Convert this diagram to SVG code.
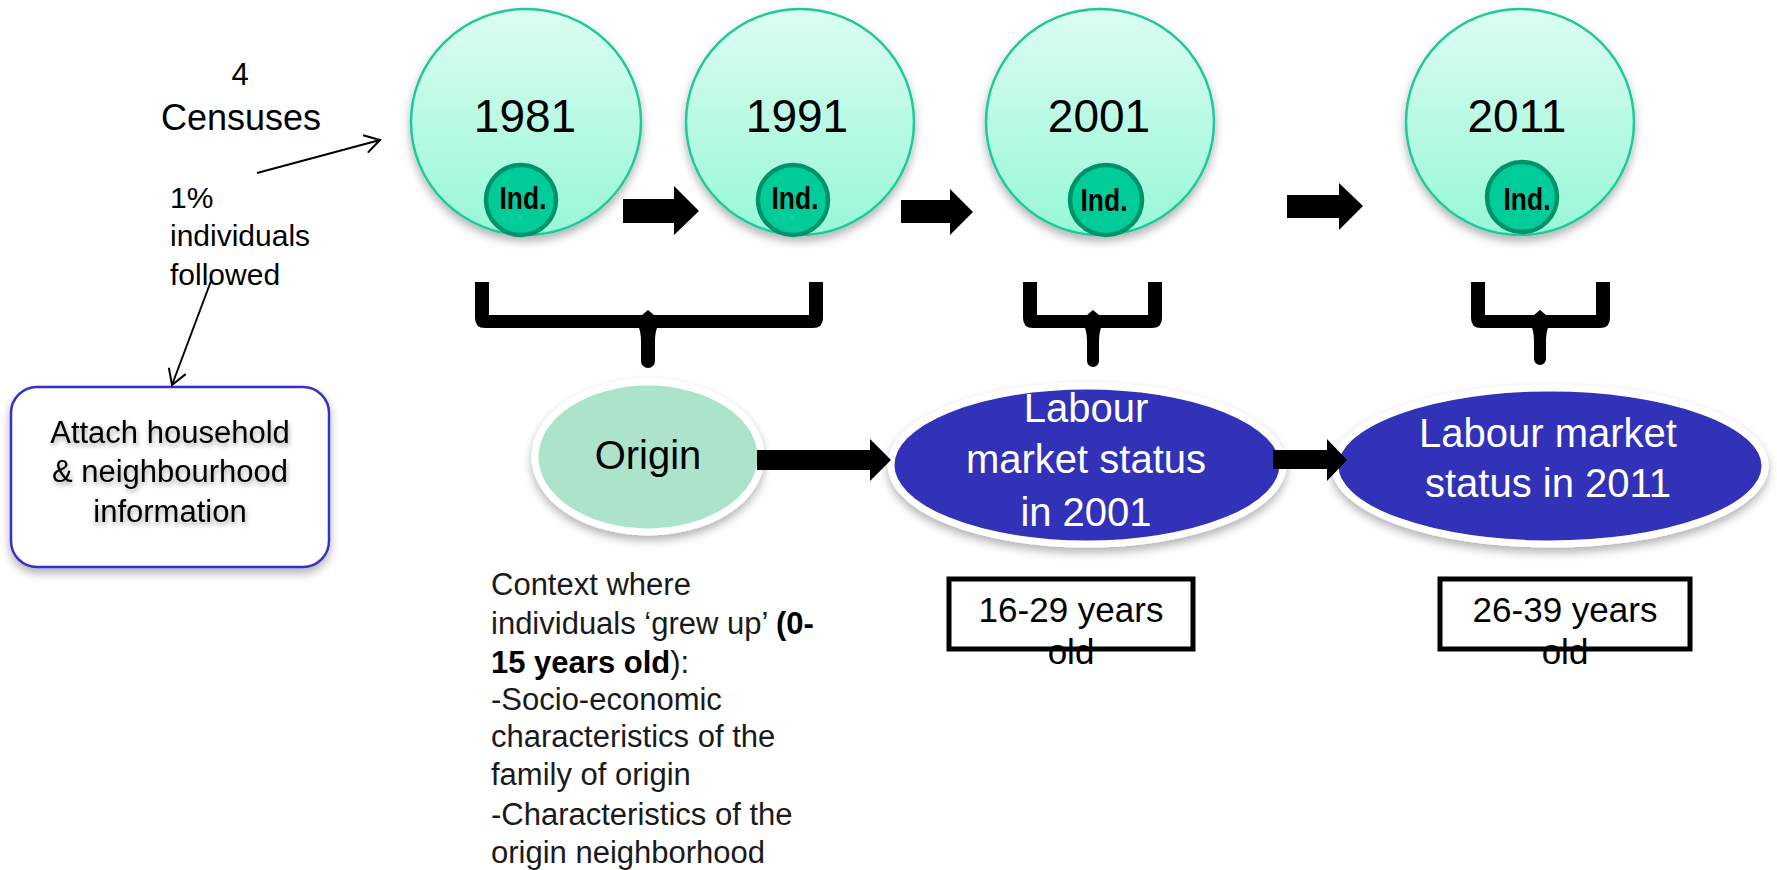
<svg xmlns="http://www.w3.org/2000/svg" width="1777" height="870" viewBox="0 0 1777 870">
<style>
text{font-family:"Liberation Sans",Arial,Helvetica,sans-serif;fill:#000}
.year{font-size:46px;text-anchor:middle}
.ind{font-size:31px;text-anchor:middle;font-weight:bold}
.census{fill:url(#gTop);stroke:#1fc99a;stroke-width:2.5}
.indc{fill:#00cc99;stroke:#00936a;stroke-width:4.5}
.lms{fill:#3030b8;stroke:#fff;stroke-width:7}
.lmst{font-size:40px;fill:#fff;text-anchor:middle}
.blk{font-size:31px;fill:#1a1a1a}
.age{font-size:35px;text-anchor:middle}
.agebox{fill:none;stroke:#000;stroke-width:5}
.thin{fill:none;stroke:#000;stroke-width:2}
.fat{fill:#000}
</style>
<defs>
<linearGradient id="gTop" x1="0" y1="0" x2="0" y2="1">
<stop offset="0" stop-color="#dcfdf2"/>
<stop offset="1" stop-color="#97f7d6"/>
</linearGradient>
<filter id="sh" x="-20%" y="-20%" width="140%" height="150%">
<feDropShadow dx="0" dy="5" stdDeviation="5" flood-color="#000" flood-opacity="0.3"/>
</filter>
<filter id="tsh" x="-10%" y="-30%" width="120%" height="160%">
<feDropShadow dx="1" dy="3" stdDeviation="2.5" flood-color="#000" flood-opacity="0.35"/>
</filter>
<marker id="open" markerUnits="userSpaceOnUse" viewBox="0 0 18 20" refX="16" refY="10" markerWidth="18" markerHeight="20" orient="auto">
<path d="M1,1 L16,10 L1,19" fill="none" stroke="#000" stroke-width="2"/>
</marker>
</defs>
<rect width="1777" height="870" fill="#fff"/>

<g id="censuses-label">
<text x="240" y="85" style="font-size:31px" text-anchor="middle">4</text>
<text x="241" y="130" style="font-size:36px" text-anchor="middle">Censuses</text>
</g>
<g id="followed-label">
<text x="170" y="208" style="font-size:30px">1%</text>
<text x="170" y="246" style="font-size:30px">individuals</text>
<text x="170" y="285" style="font-size:30px">followed</text>
</g>

<g id="attach">
<rect x="11" y="387" width="318" height="180" rx="26" fill="#fff" stroke="#3232c4" stroke-width="2.5" filter="url(#sh)"/>
<g filter="url(#tsh)" style="font-size:31px" text-anchor="middle">
<text x="170" y="443">Attach household</text>
<text x="170" y="482">&amp; neighbourhood</text>
<text x="170" y="522">information</text>
</g>
</g>

<g id="c1981">
<ellipse class="census" cx="526" cy="122" rx="115" ry="113" filter="url(#sh)"/>
<text class="year" x="525" y="132">1981</text>
<ellipse class="indc" cx="521" cy="200" rx="35" ry="35"/>
<text class="ind" x="523" y="209" textLength="47" lengthAdjust="spacingAndGlyphs">Ind.</text>
</g>
<g id="c1991">
<ellipse class="census" cx="800" cy="122" rx="114" ry="113" filter="url(#sh)"/>
<text class="year" x="797" y="132">1991</text>
<ellipse class="indc" cx="793" cy="200" rx="35" ry="35"/>
<text class="ind" x="795" y="209" textLength="47" lengthAdjust="spacingAndGlyphs">Ind.</text>
</g>
<g id="c2001">
<ellipse class="census" cx="1100" cy="122" rx="114" ry="113" filter="url(#sh)"/>
<text class="year" x="1099" y="132">2001</text>
<ellipse class="indc" cx="1106" cy="200" rx="36" ry="35"/>
<text class="ind" x="1104" y="211" textLength="47" lengthAdjust="spacingAndGlyphs">Ind.</text>
</g>
<g id="c2011">
<ellipse class="census" cx="1520" cy="122" rx="114" ry="113" filter="url(#sh)"/>
<text class="year" x="1517" y="132">2011</text>
<ellipse class="indc" cx="1522" cy="197" rx="35" ry="35"/>
<text class="ind" x="1527" y="210" textLength="47" lengthAdjust="spacingAndGlyphs">Ind.</text>
</g>

<g id="origin">
<ellipse cx="648" cy="457" rx="113" ry="75" fill="#ace3cb" stroke="#fff" stroke-width="7" filter="url(#sh)"/>
<text x="648" y="469" style="font-size:40px" text-anchor="middle">Origin</text>
</g>
<g id="lms2001">
<ellipse class="lms" cx="1087" cy="465" rx="196" ry="79" filter="url(#sh)"/>
<text class="lmst" x="1086" y="422">Labour</text>
<text class="lmst" x="1086" y="473">market status</text>
<text class="lmst" x="1086" y="526">in 2001</text>
</g>
<g id="lms2011">
<ellipse class="lms" cx="1550" cy="466" rx="215" ry="78" filter="url(#sh)"/>
<text class="lmst" x="1548" y="447">Labour market</text>
<text class="lmst" x="1548" y="497">status in 2011</text>
</g>

<g id="context-text" class="blk">
<text class="blk" x="491" y="595">Context where</text>
<text class="blk" x="491" y="634">individuals ‘grew up’ <tspan font-weight="bold" fill="#000">(0-</tspan></text>
<text class="blk" x="491" y="673"><tspan font-weight="bold" fill="#000">15 years old</tspan>):</text>
<text class="blk" x="491" y="710">-Socio-economic</text>
<text class="blk" x="491" y="747">characteristics of the</text>
<text class="blk" x="491" y="785">family of origin</text>
<text class="blk" x="491" y="825">-Characteristics of the</text>
<text class="blk" x="491" y="863">origin neighborhood</text>
</g>

<g id="age1">
<text class="age" x="1071" y="622">16-29 years</text>
<text class="age" x="1071" y="664">old</text>
<rect class="agebox" x="949" y="579" width="244" height="70"/>
</g>
<g id="age2">
<text class="age" x="1565" y="622">26-39 years</text>
<text class="age" x="1565" y="664">old</text>
<rect class="agebox" x="1440" y="579" width="250" height="70"/>
</g>

<g id="connectors">
<line class="thin" x1="257" y1="173" x2="380" y2="140" marker-end="url(#open)"/>
<line class="thin" x1="211" y1="281" x2="172" y2="385" marker-end="url(#open)"/>
<path class="fat" d="M623,199 H674 V186 L699,211 L674,235 V223 H623 Z"/>
<path class="fat" d="M901,200 H950 V189 L973,212 L950,235 V223 H901 Z"/>
<path class="fat" d="M1287,195 H1339 V183 L1363,206 L1339,230 V218 H1287 Z"/>
<path class="fat" d="M757,450 H870 V439 L891,460 L870,481 V470 H757 Z"/>
<path class="fat" d="M1273,450 H1327 V439 L1347,460 L1327,481 V469 H1273 Z"/>
<path class="fat" d="M475,282 H489 V315 H642 L648,310 L654,315 H809 V282 H823 V318 Q823,328 813,328 H657 Q655,333 655,342 V361 A7,7 0 0 1 641,361 V342 Q641,333 639,328 H485 Q475,328 475,318 Z"/>
<path class="fat" d="M1023,282 H1037 V315 H1087 L1093,310 L1099,315 H1148 V282 H1162 V318 Q1162,328 1152,328 H1101 Q1099,333 1099,342 V361 A6,6 0 0 1 1087,361 V342 Q1087,333 1085,328 H1033 Q1023,328 1023,318 Z"/>
<path class="fat" d="M1471,282 H1485 V315 H1534 L1540,310 L1546,315 H1596 V282 H1610 V318 Q1610,328 1600,328 H1548 Q1546,333 1546,342 V359 A6,6 0 0 1 1534,359 V342 Q1534,333 1532,328 H1481 Q1471,328 1471,318 Z"/>
</g>
</svg>
